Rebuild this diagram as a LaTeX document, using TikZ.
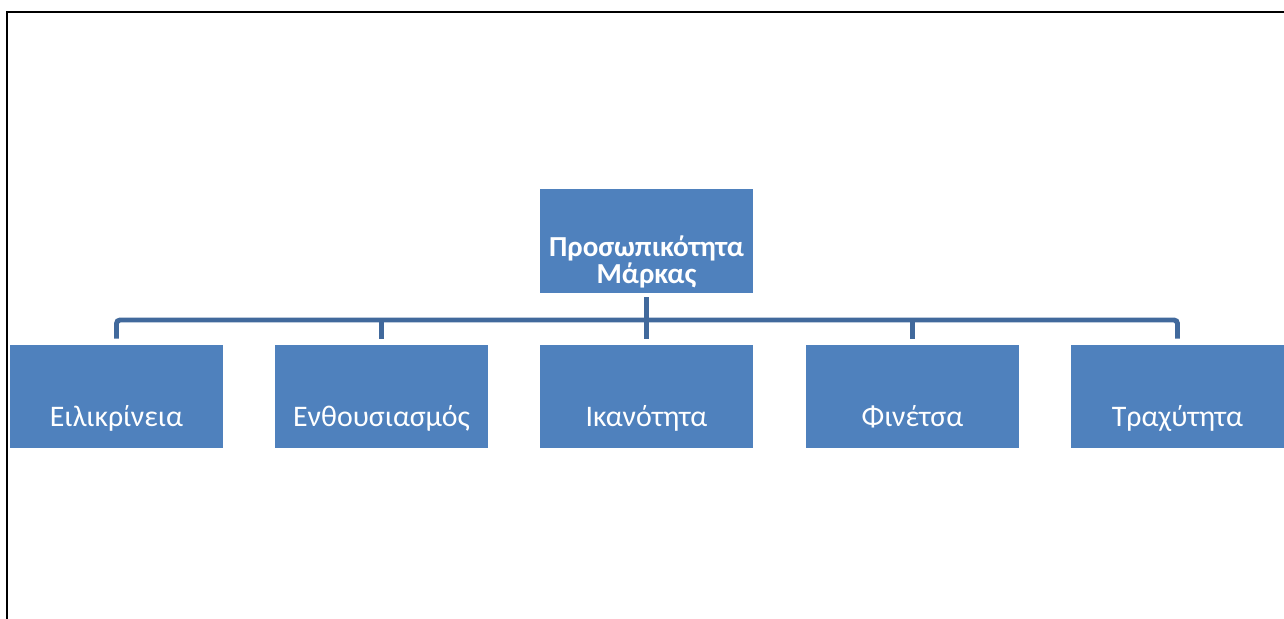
\documentclass[tikz,border=0pt]{standalone}
\usepackage{fontspec}
\setmainfont{Carlito}
\usepackage{tikz}
\usetikzlibrary{positioning}
\definecolor{boxfill}{HTML}{4F81BD}
\definecolor{linkblue}{HTML}{41699C}
\tikzset{
  unit/.style={fill=boxfill,draw=none,minimum width=4.26cm,inner xsep=0pt,
               inner ysep=0pt,text=white,font=\fontsize{17}{20}\selectfont,
               text height=1.64cm,text depth=0.42cm},
  head/.style={fill=boxfill,draw=none,minimum width=4.26cm,inner xsep=0pt,
               inner ysep=0pt,text=white,align=center,
               font=\fontsize{16.5}{15.9}\selectfont\bfseries,
               text height=1.9cm,text depth=0.18cm},
  link/.style={linkblue,line width=2.8pt,rounded corners=2pt},
}
\begin{document}
\begin{tikzpicture}
  \useasboundingbox (0,0) rectangle (25.68,12.38);
  \draw[line width=1.2pt] (0.14,0) -- (0.14,12.14) -- (25.68,12.14);
  \node[head] (brand) at (12.93,7.56) {Προσωπικότητα\\Μάρκας};
  \node[unit] (e1) at (2.33,4.45) {Ειλικρίνεια};
  \node[unit] (e2) at (7.63,4.45) {Ενθουσιασμός};
  \node[unit] (e3) at (12.93,4.45) {Ικανότητα};
  \node[unit] (e4) at (18.25,4.45) {Φινέτσα};
  \node[unit] (e5) at (23.55,4.45) {Τραχύτητα};
  \coordinate (bus) at (0,5.98);
  \draw[link] ([yshift=1.2mm]e1.north) |- (bus -| e5.north)
    -- ([yshift=1.2mm]e5.north);
  \foreach \n in {e2,e3,e4}
    \draw[link] (bus -| \n.north) -- ([yshift=1.2mm]\n.north);
  \draw[link] ([yshift=-0.8mm]brand.south) -- ([yshift=1.2mm]e3.north);
\end{tikzpicture}
\end{document}
